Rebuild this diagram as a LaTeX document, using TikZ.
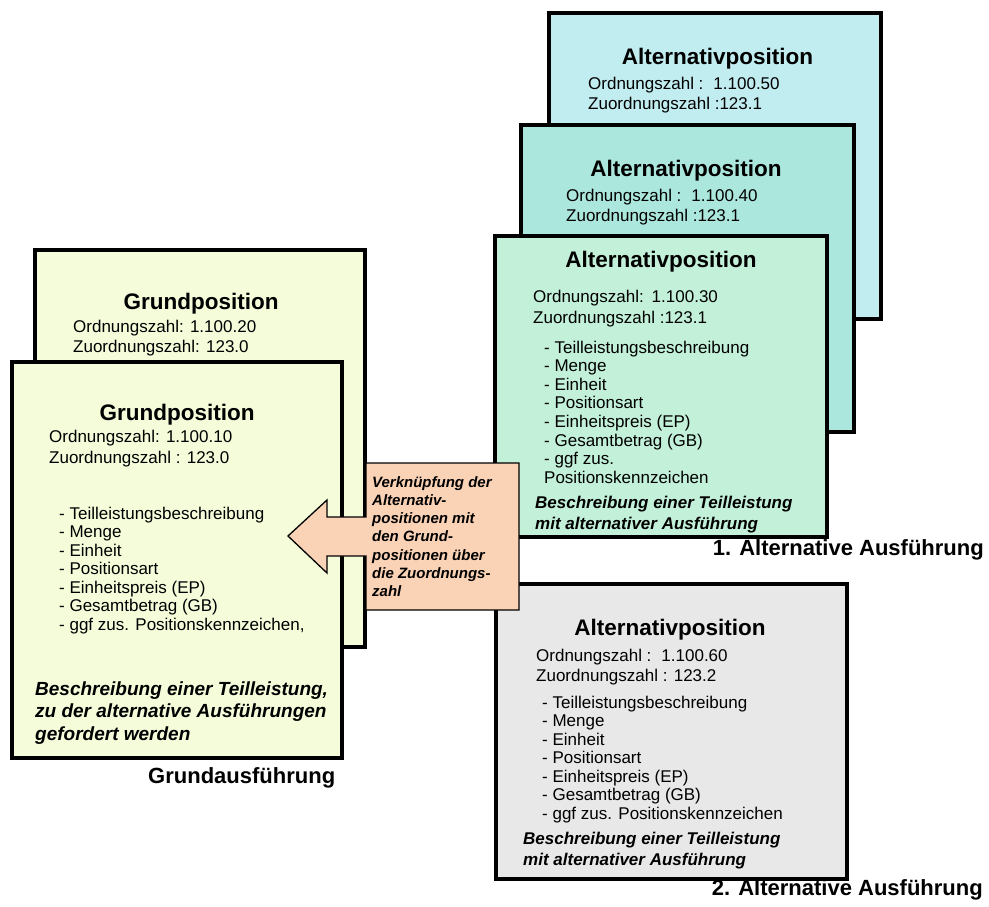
\documentclass[tikz,border=0pt]{standalone}
\usepackage{fontspec}
\setmainfont{Liberation Sans}
\definecolor{grund}{RGB}{244,252,218}
\definecolor{cyanbox}{RGB}{193,236,240}
\definecolor{tealbox}{RGB}{172,231,221}
\definecolor{mintbox}{RGB}{194,240,217}
\definecolor{greybox}{RGB}{232,232,232}
\definecolor{peach}{RGB}{250,210,182}
\tikzset{
  card/.style={draw=black, line width=3.2pt, inner sep=0pt, outer sep=0pt, anchor=north west},
  ttl/.style={font=\fontsize{22.5}{26}\selectfont\bfseries, anchor=base, inner sep=0pt},
  txt/.style={font=\fontsize{17}{19}\selectfont, anchor=base west, inner sep=0pt},
  bit/.style={font=\fontsize{19}{22}\selectfont\bfseries\itshape, anchor=base west, inner sep=0pt},
  bis/.style={font=\fontsize{17}{21}\selectfont\bfseries\itshape, anchor=base west, inner sep=0pt},
  cot/.style={font=\fontsize{15}{18}\selectfont\bfseries\itshape, anchor=base west, inner sep=0pt},
  lbl/.style={font=\fontsize{22}{26}\selectfont\bfseries, inner sep=0pt},
  calloutshape/.style={draw=black, line width=1.3pt, fill=peach, line join=miter},
}
\begin{document}
\begin{tikzpicture}[x=1pt,y=-1pt]
\useasboundingbox (0,0) rectangle (989,907);

% ---- back Grundposition
\node[card, fill=grund, minimum width=330pt, minimum height=397pt] (g2) at (35,250) {};
\node[ttl] (g2t) at (201,309) {Grundposition};
\node[txt] (g2o) at (73,332) {Ordnungszahl: 1.100.20};
\node[txt] (g2z) at (73,352) {Zuordnungszahl: 123.0};

% ---- front Grundposition
\node[card, fill=grund, minimum width=330pt, minimum height=396pt] (g1) at (12,362) {};
\node[ttl] (g1t) at (177,420) {Grundposition};
\node[txt] (g1o) at (49,442) {Ordnungszahl: 1.100.10};
\node[txt] (g1z) at (49,463) {Zuordnungszahl : 123.0};
\foreach \t [count=\i] in {- Teilleistungsbeschreibung, - Menge, - Einheit, - Positionsart, - Einheitspreis (EP), - Gesamtbetrag (GB), {- ggf zus. Positionskennzeichen,}}
  \node[txt] (g1l\i) at (59,{519+18.5*(\i-1)}) {\t};
\node[bit] (g1b1) at (35,695) {Beschreibung einer Teilleistung,};
\node[bit] (g1b2) at (35,717) {zu der alternative Ausführungen};
\node[bit] (g1b3) at (35,740) {gefordert werden};

% ---- Alternativposition 1.100.50
\node[card, fill=cyanbox, minimum width=332pt, minimum height=306pt] (a5) at (549,13) {};
\node[ttl] (a5t) at (717.5,65) {Alternativposition};
\node[txt] (a5o) at (588,89) {Ordnungszahl :\hspace{10pt}1.100.50};
\node[txt] (a5z) at (588,110) {Zuordnungszahl :123.1};

% ---- Alternativposition 1.100.40
\node[card, fill=tealbox, minimum width=333pt, minimum height=307pt] (a4) at (521,125) {};
\node[ttl] (a4t) at (686,176) {Alternativposition};
\node[txt] (a4o) at (566,201) {Ordnungszahl :\hspace{10pt}1.100.40};
\node[txt] (a4z) at (566,221) {Zuordnungszahl :123.1};

% ---- Alternativposition 1.100.30
\node[card, fill=mintbox, minimum width=332pt, minimum height=301pt] (a3) at (495,236) {};
\node[ttl] (a3t) at (661,267) {Alternativposition};
\node[txt] (a3o) at (533,302) {Ordnungszahl:\hspace{8pt}1.100.30};
\node[txt] (a3z) at (533,323) {Zuordnungszahl :123.1};
\foreach \t [count=\i] in {- Teilleistungsbeschreibung, - Menge, - Einheit, - Positionsart, - Einheitspreis (EP), - Gesamtbetrag (GB), - ggf zus., Positionskennzeichen}
  \node[txt] (a3l\i) at (544,{353+18.6*(\i-1)}) {\t};
\node[bis] (a3b1) at (535,508) {Beschreibung einer Teilleistung};
\node[bis] (a3b2) at (535,529) {mit alternativer Ausführung};

% ---- Alternativposition 1.100.60
\node[card, fill=greybox, minimum width=351pt, minimum height=295pt] (a6) at (496,584) {};
\node[ttl] (a6t) at (670,635) {Alternativposition};
\node[txt] (a6o) at (536,661) {Ordnungszahl :\hspace{10pt}1.100.60};
\node[txt] (a6z) at (536,681) {Zuordnungszahl : 123.2};
\foreach \t [count=\i] in {- Teilleistungsbeschreibung, - Menge, - Einheit, - Positionsart, - Einheitspreis (EP), - Gesamtbetrag (GB), - ggf zus. Positionskennzeichen}
  \node[txt] (a6l\i) at (542,{708+18.5*(\i-1)}) {\t};
\node[bis] (a6b1) at (523,844) {Beschreibung einer Teilleistung};
\node[bis] (a6b2) at (523,865) {mit alternativer Ausführung};

% ---- callout arrow
\coordinate (tip) at (288,536);
\draw[calloutshape] (519,463) -- (366,463) -- (366,517) -- (327,517) -- (327,500)
  -- (tip) -- (327,573) -- (327,556) -- (366,556) -- (366,610) -- (519,610) -- cycle;
\foreach \t [count=\i] in {Verknüpfung der, Alternativ-, positionen mit, den Grund-, positionen über, die Zuordnungs-, zahl}
  \node[cot] (cl\i) at (372,{487+18.3*(\i-1)}) {\t};

% ---- labels
\node[lbl, anchor=base east] (alt1) at (984,555) {1. Alternative Ausführung};
\node[lbl, anchor=base east] (alt2) at (983,895) {2. Alternative Ausführung};
\node[lbl, anchor=base west] (grundl) at (148,783) {Grundausführung};
\end{tikzpicture}
\end{document}
